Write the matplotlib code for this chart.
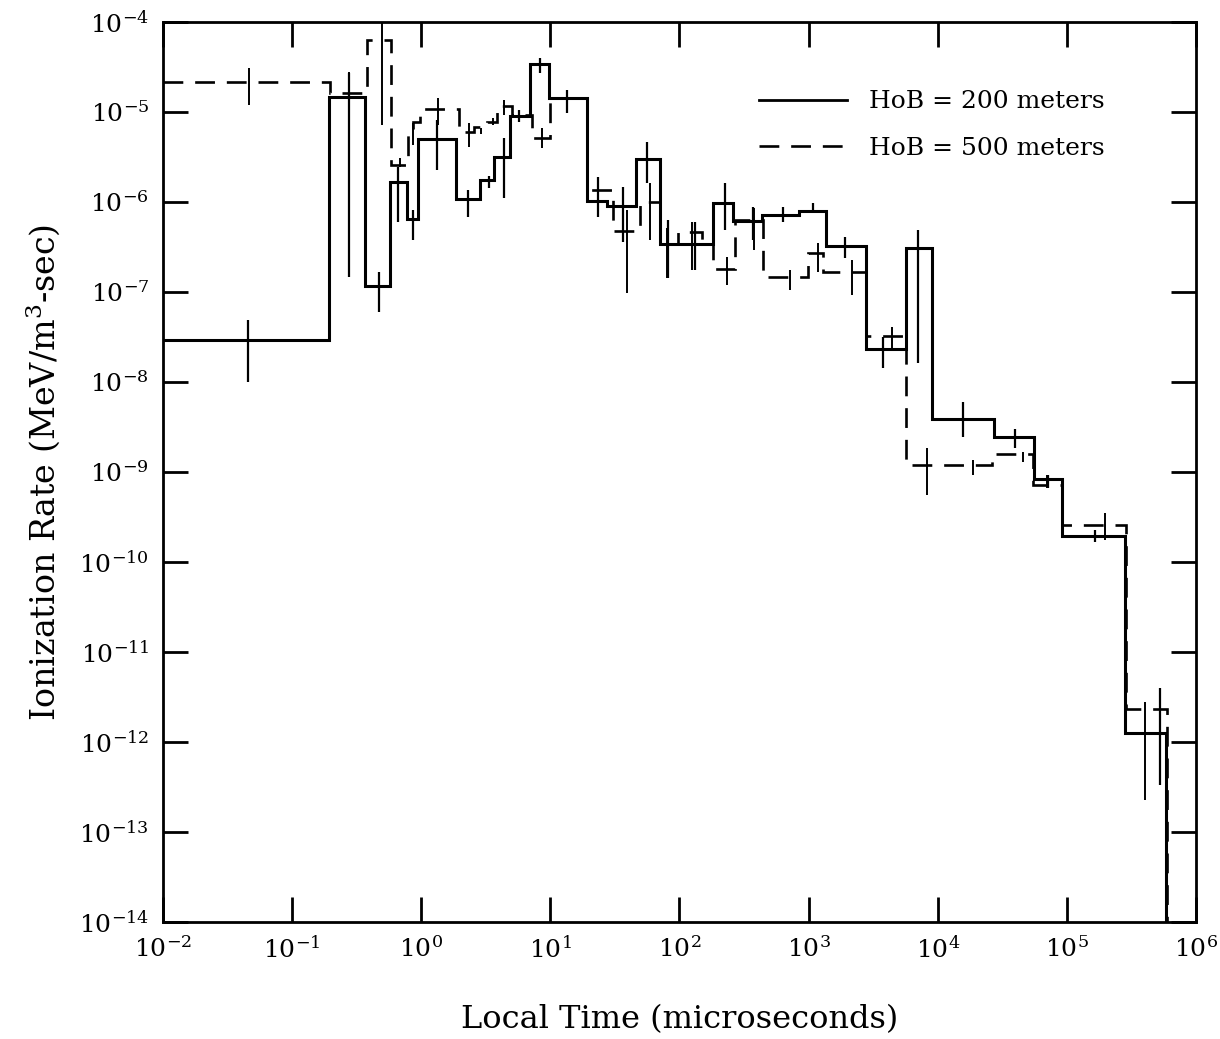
import numpy as np
import matplotlib
matplotlib.use("Agg")
import matplotlib.pyplot as plt
from matplotlib.lines import Line2D

plt.rcParams['font.family'] = ['DejaVu Serif']
plt.rcParams['mathtext.fontset'] = 'dejavuserif'

# log10 of bin edges (microseconds) and log10 of ionization rate, HoB = 200 m
edges_200 = [-2.0, -0.714, -0.435, -0.242, -0.110, -0.025, 0.270, 0.455, 0.564,
             0.688, 0.843, 0.990, 1.284, 1.439, 1.664, 1.850, 2.260, 2.415, 2.640,
             2.926, 3.136, 3.445, 3.755, 3.957, 4.437, 4.747, 4.964, 5.452, 5.769]
rate_200 = [-7.533, -4.833, -6.933, -5.778, -6.189, -5.3, -5.967, -5.756, -5.5,
            -5.044, -4.467, -4.844, -5.989, -6.044, -5.522, -6.467, -6.011, -6.211,
            -6.144, -6.1, -6.489, -7.633, -6.511, -8.411, -8.611, -9.078, -9.711, -11.9]

# HoB = 500 m
edges_500 = [-2.0, -0.706, -0.420, -0.234, -0.102, -0.063, -0.009, 0.293, 0.409,
             0.510, 0.587, 0.703, 0.858, 0.998, 1.284, 1.486, 1.695, 1.850, 1.989,
             2.175, 2.260, 2.431, 2.648, 2.996, 3.112, 3.445, 3.755, 4.421, 4.739,
             4.964, 5.459, 5.777]
rate_500 = [-4.667, -4.789, -4.2, -5.589, -5.222, -5.111, -4.967, -5.222, -5.167,
            -5.111, -4.933, -5.033, -5.289, -4.844, -5.867, -6.322, -6.0, -6.467,
            -6.333, -6.467, -6.744, -6.2, -6.833, -6.567, -6.778, -7.489, -8.922,
            -8.8, -9.144, -9.589, -11.633]

# error bars: log10 time, log10 low, log10 high
err_x_200 = [-1.342, -0.559, -0.327, -0.180, -0.063, 0.122, 0.362, 0.525, 0.641,
             0.758, 0.920, 1.129, 1.370, 1.563, 1.749, 1.912, 2.121, 2.353, 2.570,
             2.802, 3.035, 3.283, 3.577, 3.848, 4.197, 4.600, 4.855, 5.219, 5.723]
err_lo_200 = [-8.0, -6.833, -7.222, -6.222, -6.422, -5.644, -6.167, -5.844, -5.956,
              -5.111, -4.567, -5.011, -6.167, -6.444, -5.789, -6.844, -6.756, -6.311,
              -6.422, -6.222, -6.111, -6.622, -7.844, -7.789, -8.611, -8.733, -9.178,
              -9.778, -12.478]
err_hi_200 = [-7.311, -4.567, -6.778, -5.611, -6.089, -5.089, -5.867, -5.711, -5.289,
              -4.978, -4.4, -4.756, -5.722, -5.833, -5.333, -6.2, -6.222, -5.789,
              -6.056, -6.056, -6.011, -6.389, -7.5, -6.311, -8.222, -8.522, -9.033,
              -9.644, -11.4]

err_x_500 = [-1.334, -0.559, -0.304, -0.164, -0.063, 0.130, 0.370, 0.463, 0.556,
             0.641, 0.936, 1.370, 1.594, 1.772, 1.904, 2.100, 2.369, 2.578, 2.857,
             3.074, 3.337, 3.647, 3.918, 4.274, 4.662, 4.847, 5.297, 5.607]
err_lo_500 = [-4.922, -4.833, -5.144, -5.611, -5.367, -5.144, -5.389, -5.244, -5.144,
              -5.033, -5.4, -6.167, -7.011, -6.422, -6.844, -6.756, -6.922, -6.533,
              -6.978, -6.778, -7.033, -7.622, -9.256, -9.033, -8.889, -9.178, -9.756,
              -12.644]
err_hi_500 = [-4.511, -4.556, -4.011, -5.511, -5.122, -4.844, -5.122, -5.178, -5.067,
              -4.867, -5.178, -5.733, -6.089, -5.789, -6.289, -6.222, -6.611, -6.067,
              -6.756, -6.456, -6.644, -7.389, -8.733, -8.867, -8.778, -9.033, -9.456,
              -11.556]

fig = plt.figure(figsize=(12.2, 10.39), dpi=100)
ax = fig.add_axes([0.1336, 0.1126, 0.8467, 0.8662])
ax.set_xscale('log')
ax.set_yscale('log')

def pw(a):
    return 10.0 ** np.array(a)

dash = (0, (7.5, 4.5))

# last step drops below the axis
ax.stairs(np.append(pw(rate_200), 1e-30), np.append(pw(edges_200), 1e6),
          baseline=None, color='black', lw=2.2)
ax.stairs(np.append(pw(rate_500), 1e-30), np.append(pw(edges_500), 1e6),
          baseline=None, color='black', lw=1.9, linestyle=dash)

ax.vlines(pw(err_x_200), pw(err_lo_200), pw(err_hi_200), color='black', lw=1.6)
ax.vlines(pw(err_x_500), pw(err_lo_500), pw(err_hi_500), color='black', lw=1.4)

ax.set_xlim(1e-2, 1e6)
ax.set_ylim(1e-14, 1e-4)
ax.xaxis.set_major_locator(matplotlib.ticker.LogLocator(base=10, numticks=20))
ax.yaxis.set_major_locator(matplotlib.ticker.LogLocator(base=10, numticks=20))
ax.minorticks_off()
ax.tick_params(which='major', direction='in', length=18, width=2, top=True,
               right=True, labelsize=18, pad=10)
for s in ax.spines.values():
    s.set_linewidth(2)

ax.set_xlabel('Local Time (microseconds)', fontsize=23, labelpad=30)
ax.set_ylabel('Ionization Rate (MeV/m$^3$-sec)', fontsize=24, labelpad=12)

handles = [Line2D([], [], color='black', lw=2),
           Line2D([], [], color='black', lw=1.9, linestyle=dash)]
ax.legend(handles, ['HoB = 200 meters', 'HoB = 500 meters'], loc='upper right',
          bbox_to_anchor=(0.912, 0.924), frameon=False, fontsize=18,
          handlelength=3.5, handletextpad=0.9, labelspacing=0.95,
          borderaxespad=0, borderpad=0)

fig.savefig('out.png', dpi=100)
